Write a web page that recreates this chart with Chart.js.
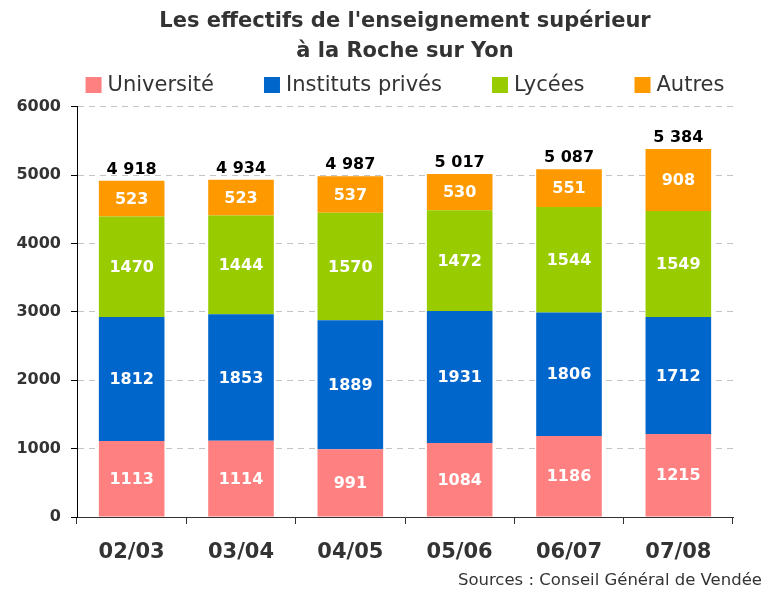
<!DOCTYPE html>
<html>
<head>
<meta charset="utf-8">
<script src="https://cdn.jsdelivr.net/npm/chart.js@4.4.0/dist/chart.umd.min.js"></script>
<style>
  html, body { margin: 0; padding: 0; background: #fff; }
  #wrap { width: 769px; height: 592px; }
</style>
</head>
<body>
<div id="wrap"><canvas id="chart" width="769" height="592"></canvas></div>
<script>
const years = ['02/03', '03/04', '04/05', '05/06', '06/07', '07/08'];
const universite = [1113, 1114, 991, 1084, 1186, 1215];
const instituts = [1812, 1853, 1889, 1931, 1806, 1712];
const lycees = [1470, 1444, 1570, 1472, 1544, 1549];
const autres = [523, 523, 537, 530, 551, 908];
const yTicks = [0, 1000, 2000, 3000, 4000, 5000, 6000];

const FONT = '"DejaVu Sans", Verdana, sans-serif';

// labels inside the bars, totals on top, legend row and source line
const barLabels = {
  id: 'barLabels',
  afterDatasetsDraw(chart) {
    const ctx = chart.ctx;
    ctx.save();
    ctx.textAlign = 'center';
    ctx.textBaseline = 'middle';
    ctx.font = 'bold 16px ' + FONT;
    ctx.fillStyle = '#fff';
    chart.data.datasets.forEach((ds, i) => {
      chart.getDatasetMeta(i).data.forEach((bar, j) => {
        ctx.fillText(String(ds.data[j]), bar.x, (bar.y + bar.base) / 2 + 1);
      });
    });
    const last = chart.getDatasetMeta(chart.data.datasets.length - 1).data;
    ctx.fillStyle = '#000';
    ctx.textBaseline = 'bottom';
    last.forEach((bar, j) => {
      const total = chart.data.datasets.reduce((s, ds) => s + ds.data[j], 0);
      const txt = total.toString().replace(/\B(?=(\d{3})+(?!\d))/g, ' ');
      ctx.fillText(txt, bar.x, bar.y - 3);
    });
    ctx.restore();
  },
  afterDraw(chart) {
    const ctx = chart.ctx;
    ctx.save();
    // legend
    ctx.font = '21px ' + FONT;
    ctx.textBaseline = 'middle';
    ctx.textAlign = 'left';
    const box = 16, gapText = 6, gapItem = 50;
    const items = chart.data.datasets.map(ds => ({
      text: ds.label, color: ds.backgroundColor, w: box + gapText + ctx.measureText(ds.label).width
    }));
    const totalW = items.reduce((s, it) => s + it.w, 0) + gapItem * (items.length - 1);
    let x = (chart.chartArea.left + chart.chartArea.right) / 2 - totalW / 2;
    items.forEach(it => {
      ctx.fillStyle = it.color;
      ctx.fillRect(x, 77, box, box);
      ctx.fillStyle = '#333';
      ctx.fillText(it.text, x + box + gapText, 86);
      x += it.w + gapItem;
    });
    // source
    ctx.font = '16.5px ' + FONT;
    ctx.fillStyle = '#333';
    ctx.textAlign = 'right';
    ctx.fillText('Sources : Conseil Général de Vendée', 762, 581);
    ctx.restore();
  }
};

new Chart(document.getElementById('chart'), {
  type: 'bar',
  data: {
    labels: years,
    datasets: [
      { label: 'Université', data: universite, backgroundColor: '#FF8080' },
      { label: 'Instituts privés', data: instituts, backgroundColor: '#0066CC' },
      { label: 'Lycées', data: lycees, backgroundColor: '#99CC00' },
      { label: 'Autres', data: autres, backgroundColor: '#FF9900' }
    ]
  },
  options: {
    responsive: false,
    animation: false,
    layout: { padding: { left: 0, right: 36, top: 0, bottom: 0 } },
    datasets: { bar: { barPercentage: 0.6, categoryPercentage: 1.0 } },
    plugins: {
      tooltip: { enabled: false },
      legend: { display: false },
      title: {
        display: true,
        fullSize: false,
        text: ["Les effectifs de l'enseignement supérieur", 'à la Roche sur Yon'],
        color: '#333',
        font: { family: FONT, size: 21, weight: 'bold', lineHeight: 1.45 },
        padding: { top: 6, bottom: 40 }
      }
    },
    scales: {
      x: {
        stacked: true,
        afterFit(scale) { scale.height = 75; },
        grid: { drawOnChartArea: false, drawTicks: true, tickLength: 7, tickColor: '#333', offset: true },
        border: { color: '#333', width: 1 },
        ticks: { color: '#333', font: { family: FONT, size: 21, weight: 'bold' }, padding: 16 }
      },
      y: {
        stacked: true,
        min: 0,
        max: 6000,
        afterFit(scale) { scale.width = 77; },
        afterBuildTicks(scale) { scale.ticks = yTicks.map(v => ({ value: v })); },
        grid: {
          color: c => (c.tick && c.tick.value === 0 ? 'rgba(0,0,0,0)' : '#c4c4c4'),
          tickColor: '#000',
          tickLength: 6
        },
        border: { color: '#000', width: 1, dash: [6, 5] },
        ticks: {
          color: '#333',
          font: { family: FONT, size: 16, weight: 'bold' },
          padding: 10,
          callback: v => String(v)
        }
      }
    }
  },
  plugins: [barLabels]
});
</script>
</body>
</html>
